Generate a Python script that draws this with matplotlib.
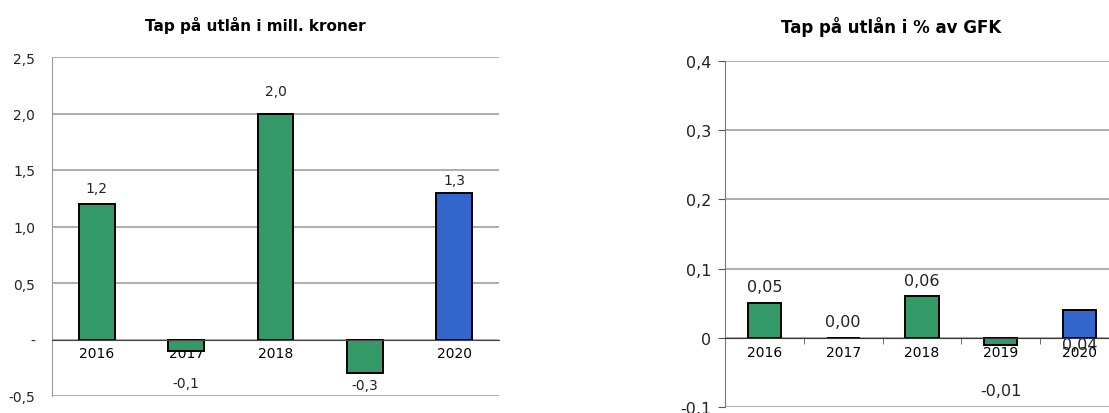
import numpy as np
import matplotlib.pyplot as plt

# data
years = ["2016", "2017", "2018", "2019", "2020"]
tap_mill = [1.2, -0.1, 2.0, -0.3, 1.3]
tap_mill_labels = ["1,2", "-0,1", "2,0", "-0,3", "1,3"]
tap_pct = [0.05, 0.0, 0.06, -0.01, 0.04]
tap_pct_labels = ["0,05", "0,00", "0,06", "-0,01", "0,04"]

left_yticks = [-0.5, 0, 0.5, 1.0, 1.5, 2.0, 2.5]
left_yticklabels = ["-0,5", "-", "0,5", "1,0", "1,5", "2,0", "2,5"]
right_yticks = [-0.1, 0, 0.1, 0.2, 0.3, 0.4]
right_yticklabels = ["-0,1", "0", "0,1", "0,2", "0,3", "0,4"]

GREEN = "#339966"
BLUE = "#3366cc"
colors = [GREEN, GREEN, GREEN, GREEN, BLUE]
TXT = "#222222"

# label offsets in pixels (points at dpi 100 ~ px*0.72)
left_offsets = [16, -32, 22, -12, 13]
right_offsets = [17, 16, 16, -46, -34]

fig = plt.figure(figsize=(11.09, 4.14), dpi=100)
x = np.arange(len(years))

# ---- left chart
ax1 = fig.add_axes([52/1109, 17/414, 447/1109, 339/414])
ax1.bar(x, tap_mill, width=0.40, color=colors, edgecolor="black", linewidth=1.4, zorder=3)
ax1.set_xlim(-0.5, 4.5)
ax1.set_ylim(-0.5, 2.5)
ax1.set_yticks(left_yticks)
ax1.set_yticklabels(left_yticklabels, fontsize=10, color=TXT)
ax1.tick_params(axis="y", length=0, pad=12)
ax1.set_xticks(x)
ax1.set_xticklabels(years, fontsize=10, color=TXT)
ax1.tick_params(axis="x", length=0, pad=5)
ax1.spines["bottom"].set_position(("data", 0))
ax1.spines["bottom"].set_color("#444444")
ax1.spines["bottom"].set_zorder(4)
ax1.spines["top"].set_visible(False)
ax1.spines["right"].set_visible(False)
ax1.spines["left"].set_color("#999999")
ax1.yaxis.grid(True, color="#a0a0a0", linewidth=1.2, zorder=0)
ax1.set_axisbelow(True)
for i, v in enumerate(tap_mill):
    ax1.annotate(tap_mill_labels[i], (x[i], v), xytext=(0, left_offsets[i]*0.72),
                 textcoords="offset points", ha="center", va="center",
                 fontsize=10, color=TXT)
fig.text(255/1109, 1 - 25/414, "Tap på utlån i mill. kroner", ha="center", va="center",
         fontsize=11, fontweight="bold", color="black")

# ---- right chart
ax2 = fig.add_axes([725/1109, 6/414, 394/1109, 346/414])
ax2.bar(x, tap_pct, width=0.42, color=colors, edgecolor="black", linewidth=1.4, zorder=3)
ax2.set_xlim(-0.5, 4.5)
ax2.set_ylim(-0.1, 0.4)
ax2.set_yticks(right_yticks)
ax2.set_yticklabels(right_yticklabels, fontsize=11.5, color=TXT)
ax2.tick_params(axis="y", length=5, pad=5, color="#555555")
ax2.set_xticks(x)
ax2.set_xticklabels(years, fontsize=11.5, color=TXT)
ax2.tick_params(axis="x", which="major", length=0, pad=5)
ax2.set_xticks(x[:-1] + 0.5, minor=True)
ax2.tick_params(axis="x", which="minor", length=4, direction="out", color="#555555")
ax2.spines["bottom"].set_position(("data", 0))
ax2.spines["bottom"].set_color("#333333")
ax2.spines["bottom"].set_zorder(4)
ax2.spines["top"].set_visible(False)
ax2.spines["right"].set_visible(False)
ax2.spines["left"].set_color("#777777")
ax2.yaxis.grid(True, color="#a0a0a0", linewidth=1.2, zorder=0)
ax2.set_axisbelow(True)
for i, v in enumerate(tap_pct):
    ax2.annotate(tap_pct_labels[i], (x[i], v), xytext=(0, right_offsets[i]*0.72),
                 textcoords="offset points", ha="center", va="center",
                 fontsize=11.5, color=TXT)
fig.text(891/1109, 1 - 27/414, "Tap på utlån i % av GFK", ha="center", va="center",
         fontsize=12, fontweight="bold", color="black")

fig.savefig("out.png", dpi=100)
